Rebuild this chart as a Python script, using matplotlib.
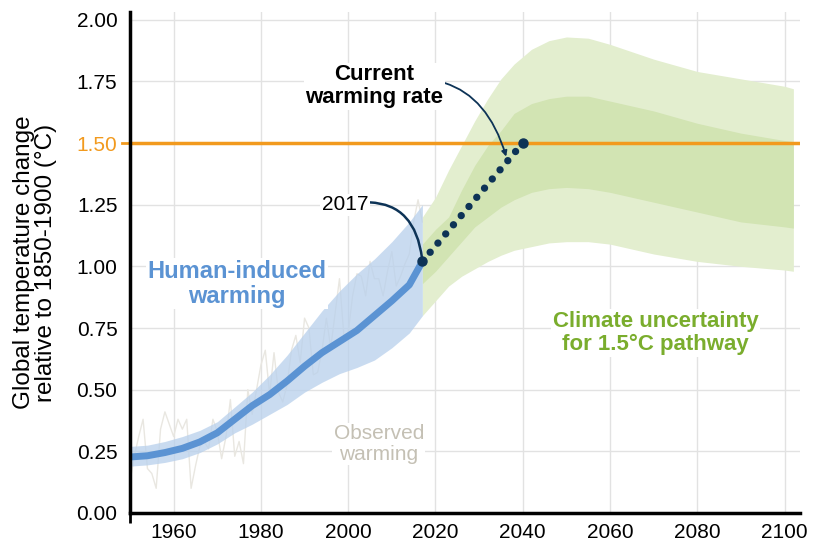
import numpy as np
import matplotlib.pyplot as plt

plt.rcParams['font.family'] = ['Liberation Sans', 'DejaVu Sans']

# human-induced warming (central estimate and likely range)
hum_years = [1950, 1954, 1958, 1962, 1966, 1970, 1974, 1978, 1982, 1986, 1990, 1994, 1998, 2002, 2006, 2010, 2014, 2017]
hum_mid = [0.227, 0.232, 0.245, 0.262, 0.288, 0.325, 0.38, 0.435, 0.48, 0.535, 0.595, 0.65, 0.695, 0.74, 0.80, 0.86, 0.925, 1.02]
hum_hi = [0.27, 0.275, 0.29, 0.31, 0.335, 0.37, 0.43, 0.49, 0.56, 0.64, 0.73, 0.82, 0.90, 0.97, 1.03, 1.10, 1.18, 1.25]
hum_lo = [0.19, 0.195, 0.205, 0.22, 0.245, 0.28, 0.325, 0.36, 0.40, 0.44, 0.49, 0.53, 0.565, 0.59, 0.62, 0.67, 0.73, 0.80]

# observed warming, annual values
obs_years = list(range(1950, 2018))
obs_vals = [0.13, 0.23, 0.31, 0.38, 0.18, 0.16, 0.10, 0.34, 0.41, 0.36,
            0.31, 0.38, 0.34, 0.38, 0.10, 0.19, 0.27, 0.29, 0.26, 0.38,
            0.33, 0.22, 0.31, 0.46, 0.23, 0.29, 0.20, 0.50, 0.40, 0.50,
            0.60, 0.66, 0.48, 0.65, 0.49, 0.45, 0.52, 0.66, 0.72, 0.61,
            0.79, 0.75, 0.56, 0.57, 0.66, 0.79, 0.67, 0.81, 0.95, 0.72,
            0.73, 0.88, 0.97, 0.96, 0.88, 1.02, 0.95, 0.95, 0.88, 0.98,
            1.06, 0.92, 0.96, 1.01, 1.05, 1.18, 1.27, 1.18]

# 1.5C pathway uncertainty (outer and inner ranges)
path_years = [2017, 2020, 2023, 2026, 2029, 2032, 2035, 2038, 2042, 2046, 2050, 2055, 2060, 2070, 2080, 2090, 2100, 2102]
outer_hi = [1.20, 1.28, 1.39, 1.49, 1.59, 1.68, 1.76, 1.82, 1.88, 1.915, 1.93, 1.925, 1.90, 1.84, 1.79, 1.76, 1.73, 1.72]
inner_hi = [1.09, 1.15, 1.20, 1.31, 1.41, 1.49, 1.55, 1.62, 1.66, 1.68, 1.69, 1.69, 1.67, 1.63, 1.58, 1.54, 1.51, 1.505]
inner_lo = [0.93, 0.98, 1.04, 1.10, 1.16, 1.20, 1.24, 1.27, 1.30, 1.315, 1.32, 1.315, 1.30, 1.26, 1.22, 1.18, 1.16, 1.155]
outer_lo = [0.80, 0.86, 0.92, 0.96, 0.99, 1.02, 1.045, 1.065, 1.08, 1.095, 1.10, 1.10, 1.09, 1.05, 1.02, 1.00, 0.985, 0.98]

# current warming rate extrapolation
rate_years = [2017, 2040]
rate_vals = [1.02, 1.50]

target = 1.5
xticks = [1960, 1980, 2000, 2020, 2040, 2060, 2080, 2100]
yticks = [0, 0.25, 0.5, 0.75, 1.0, 1.25, 1.5, 1.75, 2.0]

blue = '#5b93d3'
navy = '#0d3356'
orange = '#f29a1e'
green_txt = '#7aad2d'

fig = plt.figure(figsize=(8.15, 5.49), dpi=100)
ax = fig.add_axes([0.1595, 0.0656, 0.822, 0.912])

ax.plot(obs_years, obs_vals, color='#e9e7e1', lw=1, zorder=1)
ax.fill_between(hum_years, hum_lo, hum_hi, color='#b8d0ec', alpha=0.75, lw=0, zorder=2)
ax.fill_between(path_years, outer_lo, outer_hi, color='#e3eecf', lw=0, zorder=2)
ax.fill_between(path_years, inner_lo, inner_hi, color='#d2e4b3', lw=0, zorder=2)
ax.plot(hum_years, hum_mid, color=blue, lw=5, solid_capstyle='butt', solid_joinstyle='round', zorder=3)
ax.axhline(target, color=orange, lw=2.5, zorder=4)
ax.plot(rate_years, rate_vals, color=navy, lw=5.3, linestyle=(0, (0.001, 1.63)),
        dash_capstyle='round', zorder=5)
ax.plot(rate_years, rate_vals, 'o', color=navy, ms=6.5, zorder=6)

ax.set_xlim(1950, 2103.5)
ax.set_ylim(0, 2.03)
ax.set_xticks(xticks)
ax.set_yticks(yticks)
ax.set_yticklabels(['%.2f' % v for v in yticks])
ax.get_yticklabels()[6].set_color(orange)
ax.tick_params(length=0, labelsize=15)
ax.tick_params(axis='y', pad=9)
ax.tick_params(axis='x', pad=7)
ax.set_yticks([0], minor=True)
ax.set_xticks([1950], minor=True)
ax.tick_params(which='minor', length=7, width=2)
# orange tick mark at the 1.5 target
ax.plot([-0.012, 0], [target, target], color=orange, lw=2,
        transform=ax.get_yaxis_transform(), clip_on=False)
ax.grid(color='#e2e2e2', lw=1)
ax.set_axisbelow(True)
for s in ['top', 'right']:
    ax.spines[s].set_visible(False)
for s in ['left', 'bottom']:
    ax.spines[s].set_linewidth(2.5)
    ax.spines[s].set_zorder(10)
ax.set_ylabel('Global temperature change\nrelative to 1850-1900 (°C)', fontsize=17.5, linespacing=1.0, labelpad=14)

wb = dict(facecolor='white', edgecolor='none', pad=1)
ax.text(1974.5, 0.93, 'Human-induced\nwarming', color=blue, fontsize=17, fontweight='bold',
        ha='center', va='center', linespacing=1.1, bbox=wb, zorder=7)
ax.text(2007, 0.28, 'Observed\nwarming', color='#c4c0b4', fontsize=15,
        ha='center', va='center', linespacing=1.1, bbox=wb, zorder=7)
ax.text(2070.4, 0.73, 'Climate uncertainty\nfor 1.5°C pathway', color=green_txt, fontsize=16,
        fontweight='bold', ha='center', va='center', linespacing=1.15, bbox=wb, zorder=7)
ax.annotate('2017', xy=(rate_years[0], rate_vals[0]), xytext=(2004.6, 1.25),
            fontsize=15, ha='right', va='center', bbox=wb, zorder=7,
            arrowprops=dict(arrowstyle='-', color=navy, lw=1.8, shrinkA=0, shrinkB=2,
                            connectionstyle='arc3,rad=-0.55'))
ax.annotate('Current\nwarming rate', xy=(2036.2, 1.445), xytext=(2006, 1.73),
            fontsize=16, fontweight='bold', ha='center', va='center', linespacing=1.15,
            bbox=wb, zorder=7,
            arrowprops=dict(arrowstyle='-|>', color=navy, lw=1.3, mutation_scale=8,
                            shrinkA=0, shrinkB=0, connectionstyle='arc3,rad=-0.5'))

fig.savefig('out.png', dpi=100)
